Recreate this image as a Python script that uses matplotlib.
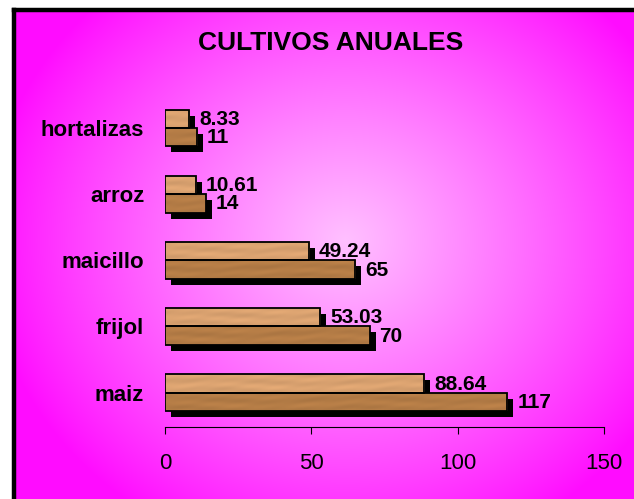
"""
Cultivos anuales — horizontal paired bars with wood look and drop shadow
on a radial magenta background.

Output: out.png
"""
import matplotlib
matplotlib.use("Agg")
import matplotlib.pyplot as plt
import matplotlib.transforms as mtransforms
import numpy as np

plt.rcParams["font.family"] = ["Liberation Sans", "DejaVu Sans"]

categories = ["maiz", "frijol", "maicillo", "arroz", "hortalizas"]
values_upper = [88.64, 53.03, 49.24, 10.61, 8.33]
values_lower = [117, 70, 65, 14, 11]
x_ticks = [0, 50, 100, 150]
title = "CULTIVOS ANUALES"

W, H, DPI = 634, 499, 100
BAR_H = 0.277


def _wood(shape, base, phase):
    # deterministic mottled grain, mostly along the bar
    ny, nx = shape
    yy, xx = np.mgrid[0:ny, 0:nx]
    grain = (0.5 * np.sin(yy * 0.7 + 1.2 * np.sin(xx * 0.03 + phase))
             + 0.3 * np.sin(xx * 0.07 + phase * 2) * np.cos(yy * 0.5)
             + 0.2 * np.sin(xx * 0.19 + yy * 0.9 + phase))
    shade = 1.0 + 0.06 * grain
    return np.clip(np.array(base)[None, None, :] / 255.0 * shade[..., None], 0, 1)


def _background(fig):
    bg = fig.add_axes([14 / W, 0, 626 / W, (H - 10) / H], zorder=-10)
    xs = np.arange(14, 640)
    ys = np.arange(10, H)
    X, Y = np.meshgrid(xs, ys)
    cx, cy, R = 345, 240, 360
    r = np.sqrt((X - cx) ** 2 + ((Y - cy) * 1.1) ** 2) / R
    t = np.clip(1 - r, 0, 1) ** 0.9
    img = np.ones(X.shape + (3,))
    img[..., 1] = (12 + 180 * t) / 255.0
    bg.imshow(img, extent=(14, 640, H, 10), aspect="auto", interpolation="bilinear")
    bg.set_xlim(14, 640)
    bg.set_ylim(H, 10)
    bg.set_xticks([])
    bg.set_yticks([])
    for side in ("right", "bottom"):
        bg.spines[side].set_visible(False)
    for side in ("left", "top"):
        bg.spines[side].set_linewidth(3.2)
        bg.spines[side].set_color("black")
    return bg


def main():
    fig = plt.figure(figsize=(W / DPI, H / DPI), dpi=DPI, facecolor="white")
    _background(fig)

    ax = fig.add_axes([165 / W, (H - 427) / H, 439 / W, 332 / H])
    ax.patch.set_alpha(0)
    y = np.arange(len(categories))

    shadow = mtransforms.offset_copy(ax.transData, fig=fig, x=6, y=-6, units="dots")
    for vals, yoff in ((values_upper, BAR_H / 2), (values_lower, -BAR_H / 2)):
        sb = ax.barh(y + yoff, vals, height=BAR_H, color="black", zorder=1)
        for p in sb:
            p.set_transform(shadow)

    bars_u = ax.barh(y + BAR_H / 2, values_upper, height=BAR_H, color="none",
                     edgecolor="black", linewidth=1.3, zorder=4)
    bars_l = ax.barh(y - BAR_H / 2, values_lower, height=BAR_H, color="none",
                     edgecolor="black", linewidth=1.3, zorder=4)

    for bars, base, ph in ((bars_u, (218, 162, 112), 0.3), (bars_l, (180, 124, 70), 1.7)):
        for i, p in enumerate(bars):
            x0, y0 = p.get_x(), p.get_y()
            w, h = p.get_width(), p.get_height()
            tex = _wood((18, max(int(w * 3), 4)), base, ph + i)
            im = ax.imshow(tex, extent=(x0, x0 + w, y0, y0 + h), aspect="auto",
                           interpolation="bilinear", zorder=3)
            im.set_clip_path(p)

    for vals, yoff in ((values_upper, BAR_H / 2), (values_lower, -BAR_H / 2)):
        for yi, v in zip(y, vals):
            ax.annotate(f"{v:g}", (v, yi + yoff), xytext=(7, 1),
                        textcoords="offset points", va="center_baseline",
                        ha="left", fontsize=15, fontweight="bold", zorder=5)

    ax.set_xlim(0, 150)
    ax.set_ylim(-0.52, 4.5)
    ax.set_xticks(x_ticks)
    ax.set_xticklabels([str(t) for t in x_ticks], fontsize=16)
    ax.tick_params(axis="x", length=5, width=0.8, pad=14, color="black")
    ax.set_yticks(y)
    ax.set_yticklabels(categories, fontsize=16, fontweight="bold")
    ax.tick_params(axis="y", length=0, pad=15)
    for side in ("left", "right", "top"):
        ax.spines[side].set_visible(False)
    ax.spines["bottom"].set_linewidth(0.8)

    fig.text(330.5 / W, 1 - 42.5 / H, title, ha="center", va="center",
             fontsize=19, fontweight="bold")

    fig.savefig("out.png", dpi=DPI, facecolor="white")
    plt.close(fig)


if __name__ == "__main__":
    main()
